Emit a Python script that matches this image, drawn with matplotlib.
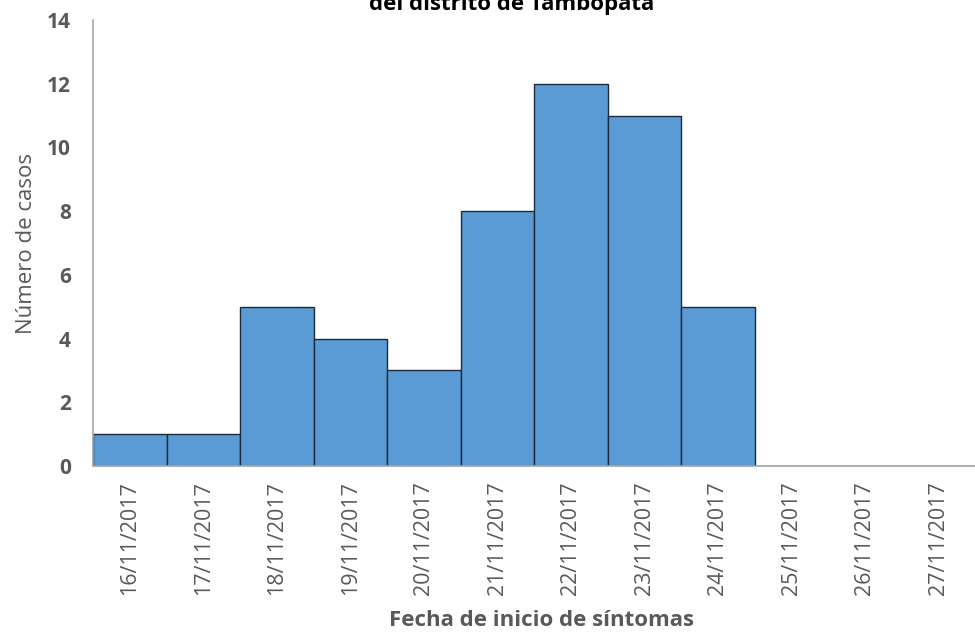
import matplotlib.pyplot as plt
import numpy as np

fechas = ['16/11/2017', '17/11/2017', '18/11/2017', '19/11/2017', '20/11/2017',
          '21/11/2017', '22/11/2017', '23/11/2017', '24/11/2017', '25/11/2017',
          '26/11/2017', '27/11/2017']
casos = [1, 1, 5, 4, 3, 8, 12, 11, 5, 0, 0, 0]
y_ticks = [0, 2, 4, 6, 8, 10, 12, 14]

GRIS = '#595959'
plt.rcParams['font.family'] = ['Open Sans', 'DejaVu Sans']

fig = plt.figure(figsize=(9.75, 6.36), dpi=100)
ax = fig.add_axes([93 / 975, 1 - 466 / 636, 1 - 93 / 975, 446 / 636])

x = np.arange(len(fechas))
ax.bar(x, casos, width=1.0, color='#5B9BD5', edgecolor='#1c2a3a', linewidth=1.0)

ax.set_xlim(-0.5, len(fechas) - 0.5)
ax.set_ylim(0, 14)
ax.set_yticks(y_ticks)
ax.set_yticklabels([str(v) for v in y_ticks], fontsize=15, fontweight='bold', color=GRIS)
ax.set_xticks(x)
ax.set_xticklabels(fechas, rotation=90, fontsize=15.5, color=GRIS)
ax.tick_params(axis='both', length=0)
ax.tick_params(axis='y', pad=16)
ax.tick_params(axis='x', pad=11)

for s in ['top', 'right']:
    ax.spines[s].set_visible(False)
for s in ['left', 'bottom']:
    ax.spines[s].set_color('#A6A6A6')
    ax.spines[s].set_linewidth(1.2)

ax.set_ylabel('Número de casos', fontsize=16, color=GRIS)
ax.yaxis.set_label_coords(-0.064, 0.5)
ax.set_xlabel('Fecha de inicio de síntomas', fontsize=16, fontweight='bold', color=GRIS, va='top')
ax.xaxis.set_label_coords(0.509, -0.322)

# el título original queda cortado en el borde superior
fig.text(512 / 975, 1 - 10 / 636, 'del distrito de Tambopata', ha='center', va='baseline',
         fontsize=16, fontweight='bold', color='black')

fig.savefig('out.png', dpi=100)
